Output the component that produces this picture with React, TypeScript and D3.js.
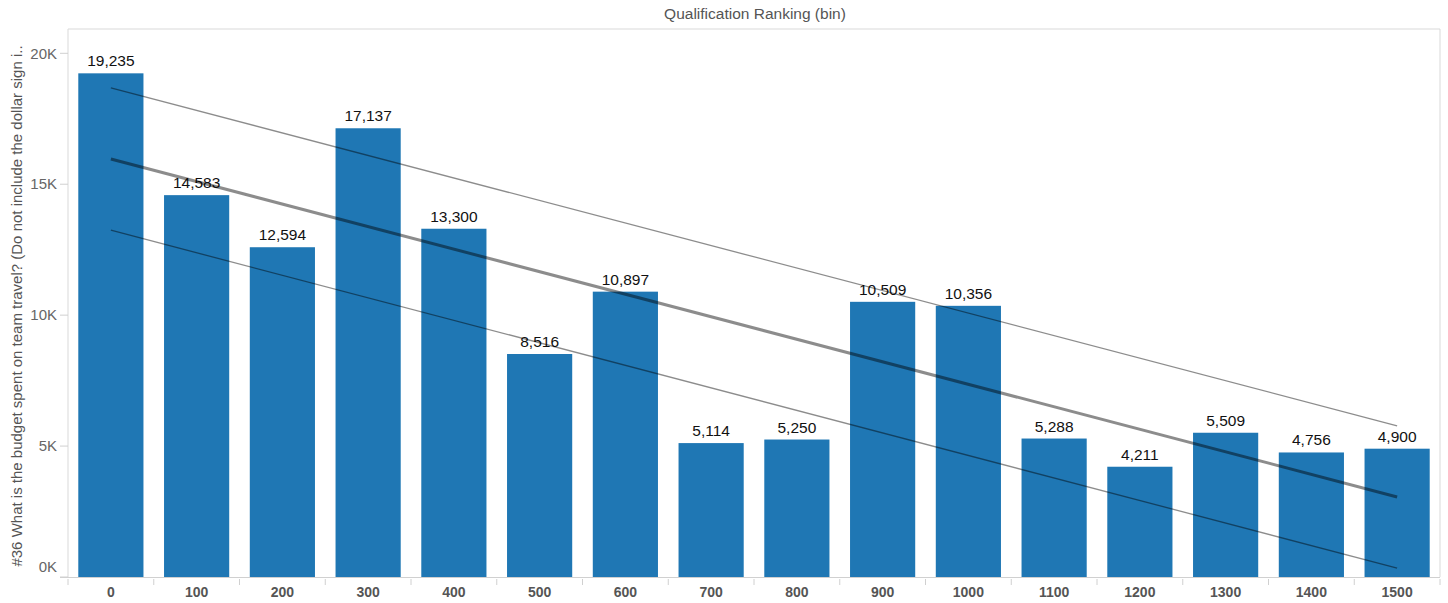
import React from "react";
import * as d3 from "d3";

const categories = ["0", "100", "200", "300", "400", "500", "600", "700", "800", "900", "1000", "1100", "1200", "1300", "1400", "1500"];
const values = [19235, 14583, 12594, 17137, 13300, 8516, 10897, 5114, 5250, 10509, 10356, 5288, 4211, 5509, 4756, 4900];
const yTicks = [0, 5000, 10000, 15000, 20000];
const title = "Qualification Ranking (bin)";
const yTitle = "#36 What is the budget spent on team travel? (Do not include the dollar sign i..";

const W = 1448, H = 603;
const L = 68, R = 1440, T = 29, B = 577;

export default function App() {
  const x = d3.scaleBand<string>().domain(categories).range([L, R]).paddingInner(0.24).paddingOuter(0.12);
  const y = d3.scaleLinear().domain([0, 20000]).range([B, 53.3]);

  // linear regression on bin index
  const n = values.length;
  const xs = values.map((_, i) => i);
  const xm = d3.mean(xs) as number;
  const ym = d3.mean(values) as number;
  const sxx = d3.sum(xs, (v) => (v - xm) ** 2);
  const sxy = d3.sum(xs, (v, i) => (v - xm) * (values[i] - ym));
  const slope = sxy / sxx;
  const icpt = ym - slope * xm;
  const pred = (i: number) => icpt + slope * i;
  const sse = d3.sum(xs, (v, i) => (values[i] - pred(v)) ** 2);
  const s = Math.sqrt(sse / (n - 2));
  const tcrit = 2.145;
  const half = (i: number) => tcrit * s * Math.sqrt(1 / n + (i - xm) ** 2 / sxx);
  const i0 = 0, i1 = n - 1;
  const cx = (i: number) => (x(categories[i]) as number) + x.bandwidth() / 2;
  const fmt = d3.format(",");

  const lines = [
    { a: pred(i0), b: pred(i1), w: 3 },
    { a: pred(i0) + half(i0), b: pred(i1) + half(i1), w: 1.3 },
    { a: pred(i0) - half(i0), b: pred(i1) - half(i1), w: 1.3 },
  ];

  return (
    <svg width={W} height={H} style={{ position: "absolute", left: 0, top: 0, fontFamily: "Arial, 'Liberation Sans', sans-serif" }}>
      <rect x={0} y={0} width={W} height={H} fill="#fff" />
      <text x={755} y={19} textAnchor="middle" fontSize={15.5} fill="#555">{title}</text>
      {/* plot border */}
      <line x1={L} x2={R} y1={T} y2={T} stroke="#d9d9d9" />
      <line x1={L} x2={L} y1={T} y2={B} stroke="#d9d9d9" />
      <line x1={R} x2={R} y1={T} y2={B} stroke="#d9d9d9" />
      {/* bars */}
      {values.map((v, i) => (
        <rect key={i} x={x(categories[i])} y={y(v)} width={x.bandwidth()} height={B - y(v)} fill="#1f77b4" />
      ))}
      {/* labels */}
      {values.map((v, i) => (
        <text key={"l" + i} x={cx(i)} y={y(v) - 7} textAnchor="middle" fontSize={15.5} fill="#111">{fmt(v)}</text>
      ))}
      {/* trend lines */}
      {lines.map((l, k) => (
        <line key={"t" + k} x1={cx(i0)} x2={cx(i1)} y1={y(l.a)} y2={y(l.b)} stroke="#000" strokeOpacity={0.45} strokeWidth={l.w} />
      ))}
      {/* x axis */}
      <line x1={60} x2={R} y1={B + 0.5} y2={B + 0.5} stroke="#d0d0d0" />
      {categories.map((c, i) => (
        <line key={"xt" + i} x1={x.step() * i + L} x2={x.step() * i + L} y1={B + 2} y2={B + 8} stroke="#d0d0d0" />
      ))}
      <line x1={R} x2={R} y1={B + 2} y2={B + 8} stroke="#d0d0d0" />
      {categories.map((c, i) => (
        <text key={"xl" + i} x={cx(i)} y={597} textAnchor="middle" fontSize={14} fontWeight="bold" fill="#555">{c}</text>
      ))}
      {/* y axis */}
      {yTicks.map((t) => (
        <g key={"yt" + t}>
          <line x1={60} x2={L} y1={y(t)} y2={y(t)} stroke="#d0d0d0" />
          <text x={57} y={Math.min(y(t), 567)} dy="0.35em" textAnchor="end" fontSize={15} fill="#666">{t / 1000 + "K"}</text>
        </g>
      ))}
      <text transform={`translate(22, ${(T + B) / 2 + 3}) rotate(-90)`} textAnchor="middle" fontSize={15} fill="#555">{yTitle}</text>
    </svg>
  );
}
